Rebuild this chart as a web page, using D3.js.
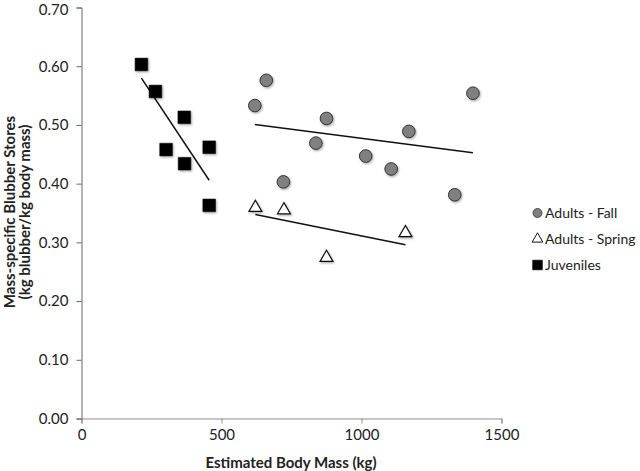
<!DOCTYPE html>
<html>
<head>
<meta charset="utf-8">
<script src="https://cdn.jsdelivr.net/npm/d3@7"></script>
<style>
  html, body { margin: 0; padding: 0; background: #fff; }
  svg { display: block; font-family: Lato, "Open Sans", sans-serif; }
</style>
</head>
<body>
<svg id="chart" width="640" height="471"></svg>
<script>
// ---- data ----
const fallMass   = [619, 660, 721, 837, 875, 1015, 1106, 1169, 1333, 1398];
const fallStores = [0.533, 0.576, 0.403, 0.469, 0.511, 0.447, 0.425, 0.489, 0.381, 0.554];

const springMass   = [621, 723, 875, 1157];
const springStores = [0.359, 0.355, 0.274, 0.316];

const juvMass   = [214, 264, 367, 302, 368, 456, 456];
const juvStores = [0.603, 0.557, 0.513, 0.458, 0.434, 0.462, 0.363];

const xTicks = [0, 500, 1000, 1500];
const yTicks = [0, 0.1, 0.2, 0.3, 0.4, 0.5, 0.6, 0.7];

const seriesNames = ["Adults - Fall", "Adults - Spring", "Juveniles"];
const xTitle = "Estimated Body Mass (kg)";
const yTitle1 = "Mass-specific Blubber Stores";
const yTitle2 = "(kg blubber/kg body mass)";

// ---- layout ----
const svg = d3.select("#chart");
const x = d3.scaleLinear().domain([0, 1500]).range([81.5, 501.5]);
const y = d3.scaleLinear().domain([0, 0.7]).range([418.5, 7.5]);

const defs = svg.append("defs");
const f = defs.append("filter").attr("id", "sh").attr("x", "-50%").attr("y", "-50%").attr("width", "200%").attr("height", "200%");
f.append("feDropShadow").attr("dx", 1).attr("dy", 1.2).attr("stdDeviation", 1).attr("flood-color", "#000").attr("flood-opacity", 0.35);

// axes
const xAxis = d3.axisBottom(x).tickValues(xTicks).tickSize(5).tickPadding(6).tickFormat(d3.format("d"));
const yAxis = d3.axisLeft(y).tickValues(yTicks).tickSize(5).tickPadding(8).tickFormat(d3.format(".2f"));

const gx = svg.append("g").attr("transform", `translate(0,${y(0)})`).call(xAxis);
gx.select(".domain").attr("stroke", "#8c8c8c");
gx.selectAll(".tick line").attr("stroke", "#8c8c8c");
gx.selectAll(".tick text").attr("font-size", 15).attr("fill", "#222").attr("font-family", "Lato");

const gy = svg.append("g").attr("transform", `translate(${x(0)},0)`).call(yAxis);
gy.select(".domain").attr("stroke", "#666");
gy.selectAll(".tick line").attr("stroke", "#666");
gy.selectAll(".tick text").attr("font-size", 15).attr("fill", "#222").attr("font-family", "Lato");
gy.selectAll(".tick text").filter(d => d === 0.7).attr("dy", "0.46em");
gy.raise();

// titles
svg.append("text").attr("x", 291).attr("y", 468).attr("text-anchor", "middle")
  .attr("font-size", 15).attr("font-weight", "bold").attr("fill", "#222").text(xTitle);
const yt = svg.append("text").attr("transform", "translate(0,212) rotate(-90)")
  .attr("text-anchor", "middle").attr("font-size", 15).attr("font-weight", "bold").attr("fill", "#222");
yt.append("tspan").attr("x", 0).attr("y", 15).text(yTitle1);
yt.append("tspan").attr("x", 0).attr("y", 30).text(yTitle2);

// regression trend lines
function trend(xs, ys) {
  const mx = d3.mean(xs), my = d3.mean(ys);
  let sxy = 0, sxx = 0;
  xs.forEach((v, i) => { sxy += (v - mx) * (ys[i] - my); sxx += (v - mx) * (v - mx); });
  const b = sxy / sxx, a = my - b * mx;
  const x0 = d3.min(xs), x1 = d3.max(xs);
  return [[x0, a + b * x0], [x1, a + b * x1]];
}
const line = d3.line().x(d => x(d[0])).y(d => y(d[1]));
[[juvMass, juvStores], [fallMass, fallStores], [springMass, springStores]].forEach(([xs, ys]) => {
  svg.append("path").attr("d", line(trend(xs, ys))).attr("stroke", "#111").attr("stroke-width", 1.5).attr("fill", "none");
});

// markers
const sym = {
  circle: d3.symbol().type(d3.symbolCircle).size(125),
  triangle: d3.symbol().type(d3.symbolTriangle).size(72),
  square: d3.symbol().type(d3.symbolSquare).size(160)
};
const styles = [
  { xs: fallMass, ys: fallStores, s: sym.circle, fill: "#808080", stroke: "#333", sw: 1 },
  { xs: springMass, ys: springStores, s: sym.triangle, fill: "#fff", stroke: "#111", sw: 1.2 },
  { xs: juvMass, ys: juvStores, s: sym.square, fill: "#000", stroke: "#000", sw: 0.5 }
];
styles.forEach(st => {
  svg.append("g").attr("filter", "url(#sh)").selectAll("path")
    .data(st.xs.map((v, i) => [v, st.ys[i]]))
    .join("path")
    .attr("d", st.s)
    .attr("transform", d => `translate(${x(d[0])},${y(d[1])})`)
    .attr("fill", st.fill).attr("stroke", st.stroke).attr("stroke-width", st.sw);
});

// legend
const legSyms = [
  d3.symbol().type(d3.symbolCircle).size(64),
  d3.symbol().type(d3.symbolTriangle).size(50),
  d3.symbol().type(d3.symbolSquare).size(90)
];
const leg = svg.append("g");
seriesNames.forEach((name, i) => {
  const cy = 213 + i * 26;
  leg.append("path").attr("d", legSyms[i]).attr("transform", `translate(537.5,${cy})`)
    .attr("fill", styles[i].fill).attr("stroke", styles[i].stroke).attr("stroke-width", i === 1 ? 1 : 0.8);
  leg.append("text").attr("x", 545).attr("y", cy + 5).attr("font-size", 14).attr("fill", "#222").text(name);
});
</script>
</body>
</html>
